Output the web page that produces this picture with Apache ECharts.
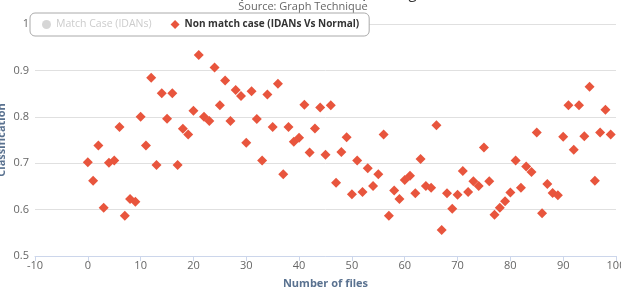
<!DOCTYPE html>
<html>
<head>
<meta charset="utf-8">
<script src="https://cdn.jsdelivr.net/npm/echarts@6/dist/echarts.min.js"></script>
<style>
  html, body { margin: 0; padding: 0; background: #fff; }
  #chart { width: 621px; height: 291px; }
</style>
</head>
<body>
<div id="chart"></div>
<script>
// file index 0..99 and classification score of each non match file
const fileIndex = [
  0, 1, 2, 3, 4, 5, 6, 7, 8, 9,
  10, 11, 12, 13, 14, 15, 16, 17, 18, 19,
  20, 21, 22, 23, 24, 25, 26, 27, 28, 29,
  30, 31, 32, 33, 34, 35, 36, 37, 38, 39,
  40, 41, 42, 43, 44, 45, 46, 47, 48, 49,
  50, 51, 52, 53, 54, 55, 56, 57, 58, 59,
  60, 61, 62, 63, 64, 65, 66, 67, 68, 69,
  70, 71, 72, 73, 74, 75, 76, 77, 78, 79,
  80, 81, 82, 83, 84, 85, 86, 87, 88, 89,
  90, 91, 92, 93, 94, 95, 96, 97, 98, 99
];
const nonMatchScore = [
  0.702, 0.662, 0.738, 0.604, 0.701, 0.706, 0.778, 0.587, 0.623, 0.617,
  0.800, 0.738, 0.884, 0.696, 0.851, 0.796, 0.851, 0.696, 0.774, 0.762,
  0.813, 0.933, 0.800, 0.791, 0.906, 0.825, 0.878, 0.791, 0.858, 0.845,
  0.744, 0.855, 0.795, 0.706, 0.848, 0.778, 0.871, 0.676, 0.778, 0.746,
  0.755, 0.826, 0.723, 0.775, 0.820, 0.718, 0.825, 0.658, 0.724, 0.756,
  0.633, 0.706, 0.638, 0.689, 0.651, 0.676, 0.762, 0.587, 0.641, 0.623,
  0.664, 0.673, 0.635, 0.709, 0.651, 0.647, 0.782, 0.556, 0.635, 0.602,
  0.632, 0.683, 0.638, 0.661, 0.651, 0.734, 0.661, 0.589, 0.604, 0.618,
  0.637, 0.706, 0.647, 0.693, 0.681, 0.766, 0.592, 0.655, 0.636, 0.631,
  0.757, 0.825, 0.729, 0.825, 0.758, 0.865, 0.662, 0.766, 0.815, 0.762
];
const seriesNames = ['Match Case (IDANs)', 'Non match case (IDANs Vs Normal)'];

const chart = echarts.init(document.getElementById('chart'));
const fontFamily = '"Open Sans", "DejaVu Sans", sans-serif';

const option = {
    animation: false,
    textStyle: { fontFamily: fontFamily },
    title: [{
        text: 'Non match case (IDANs Vs Normal) vs original Normal',
        left: 'center',
        top: -14,
        padding: 0,
        textStyle: { color: '#333', fontSize: 15, fontWeight: 'normal', fontFamily: fontFamily }
    }, {
        text: 'Source: Graph Technique',
        left: 303,
        textAlign: 'center',
        top: 1,
        padding: 0,
        textStyle: { color: '#666', fontSize: 11, fontWeight: 'normal', fontFamily: fontFamily }
    }],
    legend: {
        data: [
            { name: seriesNames[0], icon: 'circle', textStyle: { fontWeight: 'normal', fontSize: 10.5 } },
            { name: seriesNames[1], icon: 'diamond' }
        ],
        selected: { 'Match Case (IDANs)': false },
        left: 30,
        top: 13,
        padding: [6, 10, 6, 12],
        itemGap: 19,
        itemWidth: 9,
        itemHeight: 9,
        backgroundColor: '#fff',
        borderColor: '#aaa',
        borderWidth: 1,
        borderRadius: 5,
        inactiveColor: '#ccc',
        textStyle: { color: '#333', fontSize: 10, fontFamily: fontFamily, fontWeight: 'bold' },
        z: 10
    },
    grid: { left: 35, right: 5, top: 24, bottom: 35, outerBoundsMode: 'none' },
    xAxis: {
        type: 'value',
        min: -10,
        max: 100,
        interval: 10,
        name: 'Number of files',
        nameLocation: 'middle',
        nameGap: 22,
        nameMoveOverlap: false,
        nameTextStyle: { color: '#5a7290', fontSize: 11, fontWeight: 'bold', fontFamily: fontFamily },
        axisLine: { show: true, lineStyle: { color: '#ccd6eb' } },
        axisTick: { show: true, length: 5, lineStyle: { color: '#ccd6eb' } },
        axisLabel: { color: '#666', fontSize: 11, margin: 4, fontFamily: fontFamily },
        splitLine: { show: false }
    },
    yAxis: {
        type: 'value',
        min: 0.5,
        max: 1,
        interval: 0.1,
        name: 'Classification',
        nameLocation: 'middle',
        nameGap: 28,
        nameMoveOverlap: false,
        nameTextStyle: { color: '#5a7290', fontSize: 11, fontWeight: 'bold', fontFamily: fontFamily },
        axisLine: { show: false },
        axisTick: { show: false },
        axisLabel: {
            color: '#666',
            fontSize: 11,
            margin: 6,
            fontFamily: fontFamily,
            formatter: v => (Math.abs(v - 1) < 1e-9 ? '1' : v.toFixed(1))
        },
        splitLine: { lineStyle: { color: '#e0e0e0' } }
    },
    series: [{
        name: seriesNames[0],
        type: 'scatter',
        symbol: 'circle',
        symbolSize: 8,
        itemStyle: { color: '#bbb' },
        data: []
    }, {
        name: seriesNames[1],
        type: 'scatter',
        symbol: 'diamond',
        symbolSize: 10,
        itemStyle: { color: '#e8553d', opacity: 1 },
        data: fileIndex.map((x, i) => [x, nonMatchScore[i]])
    }]
};

chart.setOption(option);
window.addEventListener('resize', () => chart.resize());
</script>
</body>
</html>
